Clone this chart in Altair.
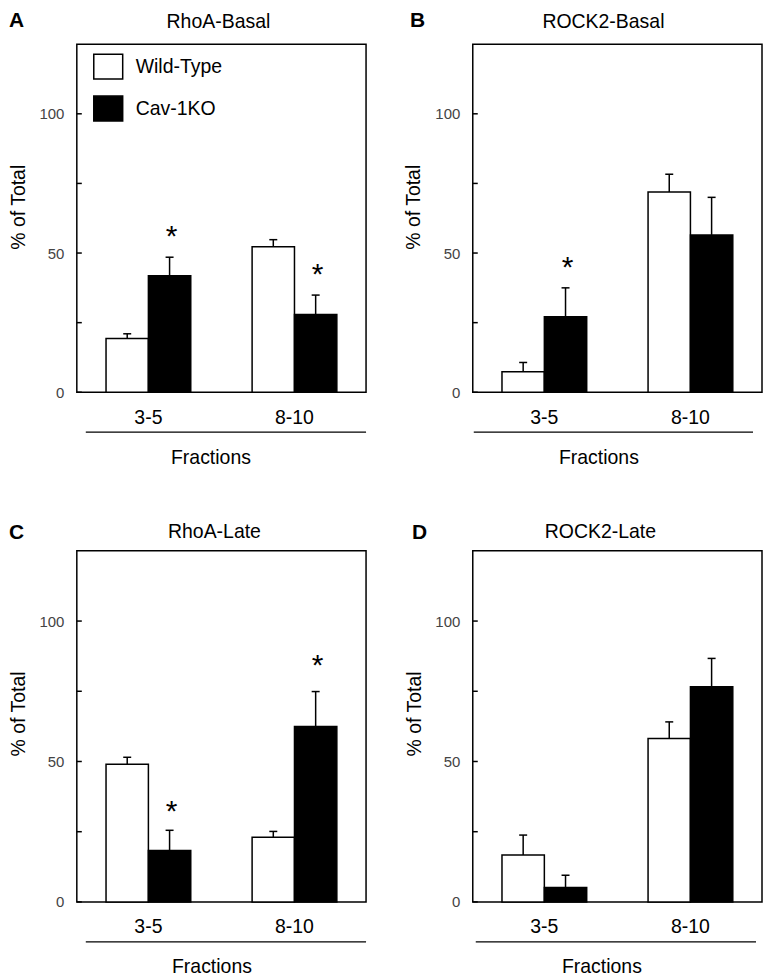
import altair as alt
import pandas as pd

# ---------------- data ----------------
fractions = ["3-5", "8-10"]
genotypes = ["Wild-Type", "Cav-1KO"]
panel_letters = ["A", "B", "C", "D"]
panel_titles = ["RhoA-Basal", "ROCK2-Basal", "RhoA-Late", "ROCK2-Late"]

wt_mean = [[19.3, 52.3], [7.4, 71.9], [49.0, 23.0], [16.7, 58.2]]
wt_err = [[1.7, 2.5], [3.3, 6.4], [2.5, 2.1], [7.1, 5.9]]
ko_mean = [[41.8, 27.9], [27.1, 56.5], [18.3, 62.5], [5.1, 76.6]]
ko_err = [[6.7, 7.0], [10.4, 13.5], [7.2, 12.4], [4.4, 10.1]]

star_frac = [["3-5", "8-10"], ["3-5"], ["3-5", "8-10"], []]
star_y = [[57.0, 43.0], [45.8], [33.1, 84.9], []]

y_ticks = [0, 25, 50, 75, 100]
y_labels = [0, 50, 100]
y_max = 125

# ---------------- layout / style ----------------
W = 290
heights = [349, 349, 352, 352]
FONT = "Liberation Sans"
FS = 19.5

# per-panel text placement (pixels relative to plot frame)
letter_x = [-68, -63, -68, -61]
letter_y = [-17, -17, -12, -12]
title_x = [142, 131, 138, 128]
title_y = [-16, -16, -13, -13]
ytitle_x = [-58, -59, -58, -58]
xtitle_x = [134, 126, 135, 129]
line_x = [(9, 290), (1, 281), (9, 290), (3, 284)]


def build_panel(i):
    H = heights[i]
    rows = []
    for g, means, errs in [(genotypes[0], wt_mean[i], wt_err[i]),
                           (genotypes[1], ko_mean[i], ko_err[i])]:
        for f, m, e in zip(fractions, means, errs):
            rows.append({"fraction": f, "genotype": g, "mean": m, "upper": m + e})
    df = pd.DataFrame(rows)

    yscale = alt.Scale(domain=[0, y_max], nice=False, zero=True)
    xscale = alt.Scale(domain=fractions, paddingInner=0.42, paddingOuter=0.2)
    xo = alt.XOffset("genotype:N", sort=genotypes,
                     scale=alt.Scale(domain=genotypes, paddingInner=0, paddingOuter=0))

    x_axis = alt.Axis(title="Fractions", labelAngle=0, ticks=False, domain=False,
                      labelPadding=16, labelFont=FONT, labelFontSize=FS, labelColor="black",
                      titleFont=FONT, titleFontSize=FS, titleFontWeight="normal",
                      titleColor="black", titleX=xtitle_x[i], titleY=65,
                      titleAlign="center", titleBaseline="middle")
    y_axis = alt.Axis(title="% of Total", values=y_labels, ticks=False, domain=False,
                      grid=False, labelPadding=13, labelFont=FONT, labelFontSize=15,
                      labelColor="#444444", titleFont=FONT, titleFontSize=FS,
                      titleFontWeight="normal", titleColor="black",
                      titleX=ytitle_x[i], titleY=163, titleAngle=270,
                      titleAlign="center", titleBaseline="middle")

    if i == 0:
        legend = alt.Legend(title=None, orient="none", legendX=16, legendY=7,
                            symbolType="M-1,-0.862L1,-0.862L1,0.862L-1,0.862Z",
                            symbolSize=841, symbolStrokeColor="black",
                            symbolStrokeWidth=1.5, symbolOpacity=1,
                            labelFont=FONT, labelFontSize=FS, labelColor="black",
                            labelOffset=12, rowPadding=11, padding=0)
    else:
        legend = None

    color = alt.Color("genotype:N", sort=genotypes,
                      scale=alt.Scale(domain=genotypes, range=["white", "black"]),
                      legend=legend)

    xenc = alt.X("fraction:N", sort=fractions, scale=xscale, axis=x_axis)

    base = alt.Chart(df)
    bars = base.mark_bar(stroke="black", strokeWidth=1.5, opacity=1).encode(
        x=xenc,
        xOffset=xo,
        y=alt.Y("mean:Q", scale=yscale, axis=y_axis),
        color=color,
    )
    err = base.mark_rule(color="black", strokeWidth=1.5).encode(
        x=xenc,
        xOffset=xo,
        y=alt.Y("mean:Q", scale=yscale, axis=y_axis),
        y2="upper:Q",
    )
    caps = base.mark_tick(color="black", orient="horizontal", size=8,
                          thickness=1.5, opacity=1).encode(
        x=xenc,
        xOffset=xo,
        y=alt.Y("upper:Q", scale=yscale, axis=y_axis),
    )
    ticks = alt.Chart(pd.DataFrame({"tick": y_ticks})).mark_rule(
        color="black", strokeWidth=1.5).encode(
        x=alt.value(0), x2=alt.value(5),
        y=alt.Y("tick:Q", scale=yscale, axis=y_axis),
    )
    title = alt.Chart(pd.DataFrame({"t": [panel_titles[i]]})).mark_text(
        font=FONT, fontSize=FS, align="center", baseline="alphabetic", color="black").encode(
        x=alt.value(title_x[i]), y=alt.value(title_y[i]), text="t:N")
    letter = alt.Chart(pd.DataFrame({"t": [panel_letters[i]]})).mark_text(
        font=FONT, fontSize=21, fontWeight="bold", align="left",
        baseline="alphabetic", color="black").encode(
        x=alt.value(letter_x[i]), y=alt.value(letter_y[i]), text="t:N")
    underline = alt.Chart(pd.DataFrame({"a": [0]})).mark_rule(
        color="black", strokeWidth=1.3).encode(
        x=alt.value(line_x[i][0]), x2=alt.value(line_x[i][1]), y=alt.value(H + 40))

    layers = [bars, err, caps, ticks, title, letter, underline]
    if star_frac[i]:
        sdf = pd.DataFrame({"fraction": star_frac[i],
                            "genotype": [genotypes[1]] * len(star_frac[i]),
                            "star": star_y[i]})
        stars = alt.Chart(sdf).mark_text(
            text="*", font=FONT, fontSize=30, align="center", baseline="alphabetic",
            dy=12, dx=2, color="black").encode(
            x=xenc,
            xOffset=xo,
            y=alt.Y("star:Q", scale=yscale, axis=y_axis),
        )
        layers.append(stars)

    return alt.layer(*layers).properties(width=W, height=H)


panels = [build_panel(i) for i in range(4)]

chart = (
    alt.concat(*panels, columns=2, spacing={"row": 159, "column": 107}, bounds="flush")
    .resolve_scale(color="independent")
    .properties(padding=0, background="white")
    .configure_view(stroke="black", strokeWidth=1.5)
    .configure_axis(grid=False)
)

chart.save("out.html", embed_options={"renderer": "svg", "actions": False})
